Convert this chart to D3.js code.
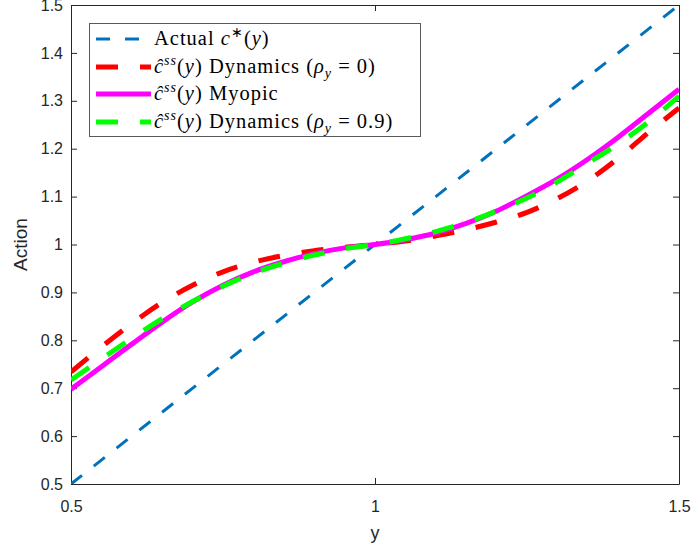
<!DOCTYPE html>
<html><head><meta charset="utf-8">
<script src="https://cdn.jsdelivr.net/npm/d3@7"></script>
<style>body{margin:0;background:#fff}</style>
</head><body>
<svg id="chart" width="693" height="548"></svg>
<script>
const xGrid = [0.5,0.55,0.6,0.65,0.7,0.75,0.8,0.85,0.9,0.95,1.0,1.05,1.1,1.15,1.2,1.25,1.3,1.35,1.4,1.45,1.5];
const actualX = [0.5, 1.5];
const actualY = [0.5, 1.5];
const dynamics0 = [0.734,0.786,0.835,0.879,0.915,0.943,0.963,0.977,0.987,0.994,1.000,1.007,1.018,1.031,1.047,1.067,1.096,1.133,1.180,1.234,1.285];
const myopic = [0.698,0.745,0.792,0.838,0.880,0.915,0.943,0.964,0.981,0.993,1.000,1.010,1.024,1.044,1.070,1.102,1.137,1.178,1.224,1.274,1.324];
const dynamics09 = [0.717,0.761,0.804,0.845,0.881,0.913,0.940,0.961,0.978,0.991,1.000,1.012,1.027,1.046,1.070,1.097,1.131,1.170,1.210,1.256,1.310];
const xTicks = [0.5, 1, 1.5];
const yTicks = [0.5,0.6,0.7,0.8,0.9,1,1.1,1.2,1.3,1.4,1.5];
const xTickLabels = ["0.5","1","1.5"];
const yTickLabels = ["0.5","0.6","0.7","0.8","0.9","1","1.1","1.2","1.3","1.4","1.5"];

const svg = d3.select("#chart");
const L = 71, R = 679, T = 5, B = 484;
const x = d3.scaleLinear().domain([0.5,1.5]).range([L,R]);
const y = d3.scaleLinear().domain([0.5,1.5]).range([B,T]);
const axisColor = "#262626";
const tickFont = "'Liberation Sans', Arial, sans-serif";

svg.append("defs").append("clipPath").attr("id","clip")
  .append("rect").attr("x",L).attr("y",T).attr("width",R-L).attr("height",B-T);

// axes
const gB = svg.append("g").attr("transform",`translate(0,${B})`)
  .call(d3.axisBottom(x).tickValues(xTicks).tickFormat((d,i)=>xTickLabels[i]).tickSizeInner(-6).tickSizeOuter(0).tickPadding(17));
const gT = svg.append("g").attr("transform",`translate(0,${T})`)
  .call(d3.axisTop(x).tickValues(xTicks).tickFormat("").tickSizeInner(-6).tickSizeOuter(0));
const gL = svg.append("g").attr("transform",`translate(${L},0)`)
  .call(d3.axisLeft(y).tickValues(yTicks).tickFormat((d,i)=>yTickLabels[i]).tickSizeInner(-6).tickSizeOuter(0).tickPadding(14));
const gR = svg.append("g").attr("transform",`translate(${R},0)`)
  .call(d3.axisRight(y).tickValues(yTicks).tickFormat("").tickSizeInner(-6).tickSizeOuter(0));
[gB,gT,gL,gR].forEach(g=>{
  g.selectAll("path.domain").attr("stroke",axisColor).attr("stroke-width",1);
  g.selectAll(".tick line").attr("stroke",axisColor).attr("stroke-width",1);
  g.selectAll(".tick text").attr("fill",axisColor).style("font-family",tickFont).style("font-size","16px");
});
gL.selectAll(".tick text").attr("dx","6");

// axis labels
svg.append("text").attr("x",(L+R)/2).attr("y",539).attr("text-anchor","middle")
  .attr("fill",axisColor).style("font-family",tickFont).style("font-size","18px").text("y");
svg.append("text").attr("transform",`translate(27,${(T+B)/2}) rotate(-90)`).attr("text-anchor","middle")
  .attr("fill",axisColor).style("font-family",tickFont).style("font-size","19px").text("Action");

// series
const series = [
  {xs: actualX, ys: actualY, color:"#0072BD", w:3, dash:"14,15"},
  {xs: xGrid, ys: dynamics0, color:"#FF0000", w:5, dash:"22,22"},
  {xs: xGrid, ys: myopic, color:"#FF00FF", w:5, dash:null},
  {xs: xGrid, ys: dynamics09, color:"#00FF00", w:5, dash:"22,22"}
];
const line = d3.line().x(d=>x(d[0])).y(d=>y(d[1])).curve(d3.curveMonotoneX);
const plot = svg.append("g").attr("clip-path","url(#clip)");
series.forEach(s=>{
  plot.append("path").datum(s.xs.map((v,i)=>[v,s.ys[i]]))
    .attr("d",line).attr("fill","none").attr("stroke",s.color)
    .attr("stroke-width",s.w).attr("stroke-dasharray",s.dash);
});

// legend
const lg = svg.append("g");
lg.append("rect").attr("x",89.5).attr("y",23.5).attr("width",331).attr("height",113)
  .attr("fill","#fff").attr("stroke","#595959").attr("stroke-width",1);
const rowsY = [39,67,94,122];
const serif = "'Liberation Serif', 'Times New Roman', serif";
series.forEach((s,i)=>{
  lg.append("line").attr("x1",96).attr("x2",151).attr("y1",rowsY[i]).attr("y2",rowsY[i])
    .attr("stroke",s.color).attr("stroke-width",s.w).attr("stroke-dasharray",s.dash);
});
function chat(t){
  t.append("tspan").style("font-style","italic").text("ĉ");
  t.append("tspan").style("font-style","italic").style("font-size","14px").attr("dy","-8").text("ss");
  t.append("tspan").attr("dy","8").text("(");
  t.append("tspan").style("font-style","italic").text("y");
  t.append("tspan").text(")");
}
function mk(i){
  return lg.append("text").attr("x",154).attr("y",rowsY[i]+6).attr("fill","#000")
    .style("font-family",serif).style("font-size","20.5px").style("letter-spacing","1px");
}
let t0 = mk(0);
t0.append("tspan").text("Actual ");
t0.append("tspan").style("font-style","italic").text("c");
t0.append("tspan").style("font-size","14px").attr("dy","-8").text("∗");
t0.append("tspan").attr("dy","8").text("(");
t0.append("tspan").style("font-style","italic").text("y");
t0.append("tspan").text(")");
function dyn(i,val){
  const t = mk(i);
  chat(t);
  t.append("tspan").text(" Dynamics (");
  t.append("tspan").style("font-style","italic").text("ρ");
  t.append("tspan").style("font-style","italic").style("font-size","14px").attr("dy","5").text("y");
  t.append("tspan").attr("dy","-5").text(" = " + val + ")");
}
dyn(1,"0");
let t2 = mk(2); chat(t2); t2.append("tspan").text(" Myopic");
dyn(3,"0.9");
</script>
</body></html>
